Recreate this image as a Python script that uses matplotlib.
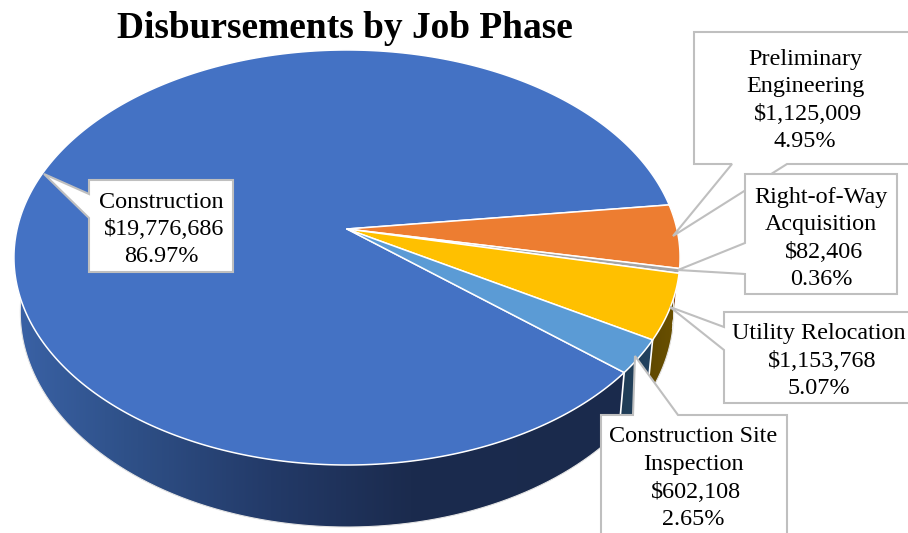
import numpy as np
import matplotlib
matplotlib.use('Agg')
import matplotlib.pyplot as plt
from matplotlib.patches import Polygon
from matplotlib.colors import LinearSegmentedColormap

plt.rcParams['font.family'] = ['Liberation Serif', 'DejaVu Serif']

#chart data, clockwise from the construction slice
phases = ['Construction', 'Preliminary Engineering', 'Right-of-Way Acquisition', 'Utility Relocation', 'Construction Site Inspection']
amounts = [19776686, 1125009, 82406, 1153768, 602108]
percents = ['86.97%', '4.95%', '0.36%', '5.07%', '2.65%']
label_names = [['Construction'], ['Preliminary', 'Engineering'], ['Right-of-Way', 'Acquisition'], ['Utility Relocation'], ['Construction Site', 'Inspection']]
title = 'Disbursements by Job Phase'

top_colors = ['#4472C4', '#ED7D31', '#A5A5A5', '#FFC000', '#5B9BD5']
side_maps = [[(0.0, '#3A62A6'), (0.18, '#2F5189'), (0.42, '#233A68'), (0.65, '#1B2B4E'), (1.0, '#1A2A4C')],
             ['#8E4B1D', '#8E4B1D'], ['#636363', '#636363'],
             ['#5F4800', '#6B5100'], ['#1F3C55', '#234260']]

#pie camera, in pixels of the 908x533 picture
cx, cy = 347, 229
A, B, k = 329.9, 203.6, 0.1373
depth = 53.5
shrink = 0.019
start_deg = -40.0


def project(theta, z=0.0):
    X = np.cos(theta)
    Y = np.sin(theta)
    w = 1 + k * Y
    x = cx + A * X / w * (1 - shrink * z)
    y = cy - B * Y / w + depth * z / w
    return x, y


fig = plt.figure(figsize=(9.08, 5.33), dpi=100)
ax = fig.add_axes([0, 0, 1, 1])

#slice angles from the values, going clockwise
fracs = np.array(amounts) / sum(amounts)
edges = np.radians(start_deg - 360 * np.concatenate([[0], np.cumsum(fracs)]))
slices = [(edges[0], edges[1])]
for i in range(1, len(amounts)):
    slices.append((edges[i] + 2 * np.pi, edges[i + 1] + 2 * np.pi))

#side walls, the construction one stops at the far left of the pie
for i in [0, 4, 3, 2, 1]:
    a0, a1 = slices[i]
    if i == 0:
        a1 = np.radians(-190)
    t = np.linspace(a0, a1, 300)
    xt, yt = project(t)
    xb, yb = project(t, 1.0)
    outline = np.column_stack([np.r_[xt, xb[::-1]], np.r_[yt, yb[::-1]]])
    cmap = LinearSegmentedColormap.from_list('side', side_maps[i])
    gx0, gx1 = outline[:, 0].min(), outline[:, 0].max()
    img = ax.imshow(np.linspace(0, 1, 512).reshape(1, -1), cmap=cmap, extent=(gx0, gx1, 540, 0), aspect='auto', zorder=2)
    img.set_clip_path(Polygon(outline, transform=ax.transData))
    ax.plot(xb, yb, color='#E4E4E4', lw=0.8, zorder=2.5)
    ax.plot([xt[0], xb[0]], [yt[0], yb[0]], color='white', lw=1.2, zorder=2.5)

#top face
for i in range(len(amounts)):
    a0, a1 = slices[i]
    t = np.linspace(a0, a1, 400)
    x, y = project(t)
    ax.fill(np.r_[cx, x], np.r_[cy, y], facecolor=top_colors[i], edgecolor='white', lw=1.1, zorder=3, joinstyle='round')

#callouts: box corners and tail (join, tip, join) in pixels
boxes = [(89, 180, 233, 272), (694, 32, 925, 164), (745, 174, 897, 294), (724, 312, 925, 403), (601, 415, 787, 560)]
tails = [[(89, 194), (44, 174), (89, 218)],
         [(732, 164), (673, 236), (787, 164)],
         [(745, 243), (678, 270), (745, 274)],
         [(724, 327), (670, 307), (724, 350)],
         [(633, 415), (635, 356), (678, 415)]]
tail_side = ['left', 'bottom', 'left', 'left', 'top']
line_x = [161.5, 805, 821, 819, 693.5]
line_y = [202, 59, 197, 334, 437]

for n in [1, 2, 3, 4, 0]:
    x0, y0, x1, y1 = boxes[n]
    j0, tip, j1 = tails[n]
    if tail_side[n] == 'left':
        pts = [(x0, y0), (x1, y0), (x1, y1), (x0, y1), j1, tip, j0]
    elif tail_side[n] == 'bottom':
        pts = [(x0, y0), (x1, y0), (x1, y1), j1, tip, j0, (x0, y1)]
    else:
        pts = [(x0, y0), j0, tip, j1, (x1, y0), (x1, y1), (x0, y1)]
    ax.fill(*zip(*pts), facecolor='white', edgecolor='#BFBFBF', lw=1.5, zorder=4 + n * 0.01, joinstyle='miter')
    lines = label_names[n] + ['$' + format(amounts[n], ','), percents[n]]
    for m, line in enumerate(lines):
        dx = 3 if line.startswith('$') else 0
        ax.text(line_x[n] + dx, line_y[n] + m * 27.5, line, fontsize=17.4, color='black', ha='center', va='center', zorder=5)

ax.text(345, 28, title, fontsize=26.9, fontweight='bold', color='black', ha='center', va='center', zorder=6)

ax.set_xlim(0, 908)
ax.set_ylim(533, 0)
ax.axis('off')

fig.savefig('out.png', dpi=100)
